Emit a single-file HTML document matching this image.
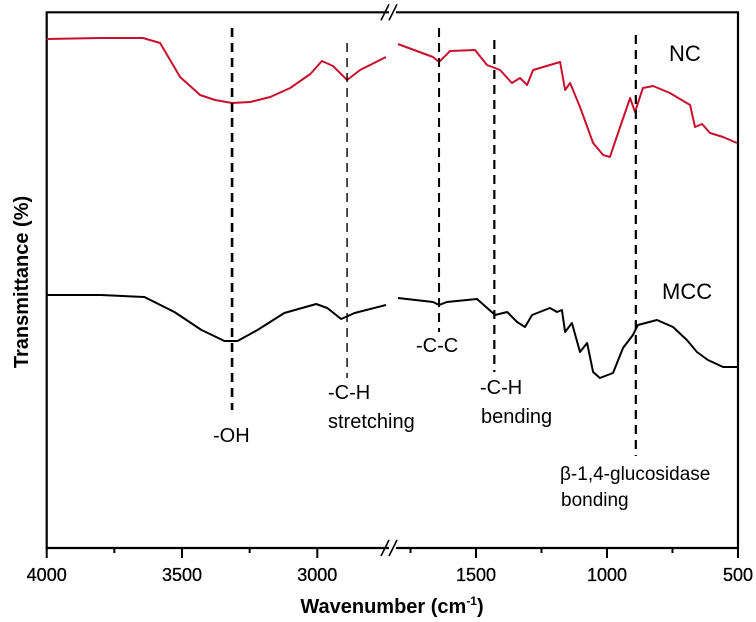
<!DOCTYPE html>
<html><head><meta charset="utf-8"><style>
body{margin:0;background:#fff;}
svg{display:block;font-family:"Liberation Sans",Arial,sans-serif;}
</style></head><body>
<svg id="chart" width="756" height="622" viewBox="0 0 756 622" xmlns="http://www.w3.org/2000/svg">
<g id="frame"></g>
<g id="marks"></g>
<g id="ann"></g>
</svg>
<script>
const leftTicks=[4000,3750,3500,3250,3000];
const rightTicks=[1750,1500,1250,1000,750,500];
const majorLabels=[4000,3500,3000,1500,1000,500];
const ncLeftW=[4000,3800,3644,3581,3507,3433,3378,3315,3248,3174,3100,3026,2983,2942,2890,2842,2746];
const ncLeftV=[509,510,510,505,471,453,448,445,446,451,460,474,487,482,468,478,491];
const ncRightW=[1798,1664,1641,1599,1504,1458,1408,1363,1332,1305,1282,1218,1179,1160,1141,1103,1053,1015,989,950,912,893,863,824,760,683,664,637,607,557,504];
const ncRightV=[504,491,486,497,498,483,478,465,470,463,478,483,486,458,465,441,405,393,391,421,450,436,460,462,455,443,421,424,415,411,405];
const mccLeftW=[4000,3800,3639,3528,3428,3343,3295,3221,3122,3004,2963,2912,2862,2746];
const mccLeftV=[253,253,251,236,218,207,207,218,235,244,240,229,235,243];
const mccRightW=[1798,1664,1641,1611,1496,1427,1381,1343,1313,1286,1218,1191,1172,1160,1134,1103,1076,1053,1027,977,939,901,882,809,748,695,657,615,557,504];
const mccRightV=[250,246,243,246,249,233,236,226,221,233,240,236,238,216,225,196,205,176,170,175,200,213,223,228,221,208,196,188,181,181];
const markerW=[3315,2890,1641,1430,890];

const L=46.7,R=738,T=12.3,B=548,BRK=392;
function xs(w){return w>=2000? L+(4000-w)*0.2706 : R-(w-500)*0.262;}
function ys(v){return B-v;}
const NS="http://www.w3.org/2000/svg";
function mk(tag,attrs,parent){const e=document.createElementNS(NS,tag);for(const k in attrs)e.setAttribute(k,attrs[k]);parent.appendChild(e);return e;}
const frame=document.getElementById('frame'),marks=document.getElementById('marks'),ann=document.getElementById('ann');

let e;
e=mk('line',{x1:L,y1:T,x2:L,y2:B,stroke:'#000','stroke-width':2.2},frame);

e=mk('line',{x1:R,y1:T,x2:R,y2:B,stroke:'#000','stroke-width':2.2},frame);

[[T,'top'],[B,'bottom']].forEach(([y,n])=>{
  e=mk('path',{d:`M${L-1},${y}H${BRK-3}M${BRK+4},${y}H${R+1}`,stroke:'#000','stroke-width':2.2,fill:'none'},frame);
  
  e=mk('path',{d:`M${BRK-11},${y+8}L${BRK-3},${y-8}M${BRK-3},${y+8}L${BRK+5},${y-8}`,stroke:'#000','stroke-width':1.6,fill:'none'},frame);
  
});
leftTicks.concat(rightTicks).forEach(w=>{
  const maj=majorLabels.includes(w);
  e=mk('line',{x1:xs(w),y1:B,x2:xs(w),y2:B+(maj?10:5),stroke:'#000','stroke-width':2},frame);
  
  if(maj){
    e=mk('text',{x:xs(w),y:581,'text-anchor':'middle','font-size':18,'stroke':'#000','stroke-width':0.3},frame);e.textContent=w;
    
  }
});
e=mk('text',{x:392,y:613,'text-anchor':'middle','font-size':20,'font-weight':'bold'},frame);
e.innerHTML='Wavenumber (cm<tspan dy="-8" font-size="12">-1</tspan><tspan dy="8">)</tspan>';

e=mk('text',{x:0,y:0,transform:'translate(28,282) rotate(-90)','text-anchor':'middle','font-size':20,'font-weight':'bold'},frame);
e.textContent='Transmittance (%)';


const mStyle=[[28,410,2.6],[43,378,1.4],[28,332,2],[40,372,2.2],[35,456,2.2]];
markerW.forEach((w,i)=>{
  e=mk('line',{x1:xs(w),y1:mStyle[i][0],x2:xs(w),y2:mStyle[i][1],stroke:'#000','stroke-width':mStyle[i][2],'stroke-dasharray':'9,6'},ann);
  
});

function drawSeries(W,V,color,name){
  const d=W.map((w,i)=>(i?'L':'M')+xs(w).toFixed(1)+','+ys(V[i]).toFixed(1)).join('');
  const p=mk('path',{d:d,stroke:color,'stroke-width':2,fill:'none','stroke-linejoin':'round'},marks);
  
  
}
drawSeries(ncLeftW,ncLeftV,'#c8102e','nc-line-left');
drawSeries(ncRightW,ncRightV,'#c8102e','nc-line-right');
drawSeries(mccLeftW,mccLeftV,'#000','mcc-line-left');
drawSeries(mccRightW,mccRightV,'#000','mcc-line-right');

const labels=[['NC',669,61,22,'series-label-nc'],['MCC',662,299,22,'series-label-mcc'],['-OH',213,442,20,'oh-label'],
['-C-H',328,399,20,'ch-stretch-label'],['stretching',328,428,20,'stretching-label'],['-C-C',416,352,20,'cc-label'],
['-C-H',480,394,20,'ch-bend-label'],['bending',481,423,20,'bending-label'],['β-1,4-glucosidase',560,480,19,'glucosidase-label'],['bonding',561,506,19,'bonding-label']];
labels.forEach(l=>{
  e=mk('text',{x:l[1],y:l[2],'font-size':l[3]},ann);e.textContent=l[0];
  
});
</script>
</body></html>
